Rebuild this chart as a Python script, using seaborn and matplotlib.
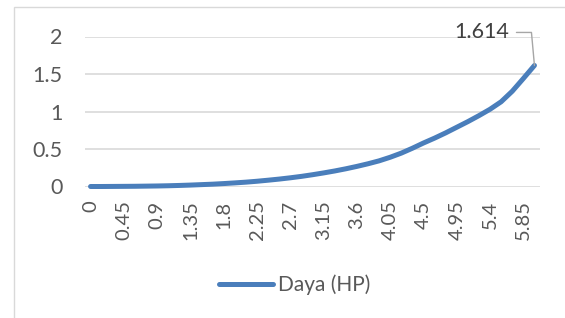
import numpy as np
import pandas as pd
import matplotlib
matplotlib.use("Agg")
import matplotlib.pyplot as plt
from matplotlib.lines import Line2D
from matplotlib.patches import Rectangle
import seaborn as sns

# ---- data ----
speed = ["0", "0.15", "0.3", "0.45", "0.6", "0.75", "0.9", "1.05", "1.2", "1.35",
         "1.5", "1.65", "1.8", "1.95", "2.1", "2.25", "2.4", "2.55", "2.7", "2.85",
         "3", "3.15", "3.3", "3.45", "3.6", "3.75", "3.9", "4.05", "4.2", "4.35",
         "4.5", "4.65", "4.8", "4.95", "5.1", "5.25", "5.4", "5.55", "5.7", "5.85", "6"]
daya = [0.000, 0.000, 0.001, 0.002, 0.003, 0.005, 0.007, 0.010, 0.014, 0.019,
        0.025, 0.031, 0.039, 0.048, 0.058, 0.070, 0.084, 0.099, 0.116, 0.135,
        0.157, 0.181, 0.207, 0.236, 0.268, 0.303, 0.342, 0.390, 0.445, 0.510,
        0.580, 0.645, 0.715, 0.790, 0.865, 0.945, 1.030, 1.130, 1.270, 1.440, 1.614]
series_name = "Daya (HP)"
y_ticks = [0, 0.5, 1, 1.5, 2]
y_tick_labels = ["0", "0.5", "1", "1.5", "2"]
label_text = "1.614"

df = pd.DataFrame({"pos": np.arange(len(speed)), "daya": daya, "speed": speed})

sns.set_style("white")
plt.rcParams["font.family"] = ["Lato", "DejaVu Sans"]

W, H = 565, 318
fig = plt.figure(figsize=(W / 100, H / 100), dpi=100)
# chart border (extends beyond the cropped image)
fig.patches.append(Rectangle((14 / W, -0.1), 1.2, (H - 7) / H + 0.1,
                             transform=fig.transFigure, fill=False,
                             edgecolor="#D9D9D9", linewidth=1.0))

ax = fig.add_axes([85 / W, (H - 186.5) / H, 455 / W, 150 / H])
blue = "#4A7EBB"
sns.lineplot(data=df, x="pos", y="daya", ax=ax, color=blue, linewidth=3.6,
             label=series_name, legend=False)
for ln in ax.get_lines():
    ln.set_solid_capstyle("round")
    ln.set_solid_joinstyle("round")
    ln.set_clip_on(False)
    ln.set_zorder(3)

ax.set_xlim(-0.5, len(speed) - 0.5)
ax.set_ylim(0, 2)
ax.set_yticks(y_ticks)
ax.set_yticklabels(y_tick_labels)
tick_pos = list(range(0, len(speed), 3))
ax.set_xticks(tick_pos)
ax.set_xticklabels([speed[i] for i in tick_pos], rotation=90)
ax.tick_params(axis="both", length=0, colors="#595959")
ax.tick_params(axis="y", pad=16, labelsize=15.5)
ax.tick_params(axis="x", pad=10, labelsize=14.5)
ax.set_xlabel("")
ax.set_ylabel("")
ax.grid(axis="y", color="#D9D9D9", linewidth=1.2)
ax.grid(axis="x", visible=False)
ax.set_axisbelow(True)
for s in ax.spines.values():
    s.set_visible(False)

# data label with leader line
fig.canvas.draw()
px, py = ax.transData.transform((len(speed) - 1, daya[-1]))
leader = Line2D([px - 18, px - 3, px], [py + 33, py + 33, py],
                transform=None, color="#A6A6A6", linewidth=1.0)
fig.lines.append(leader)
fig.text((px - 25) / W, (py + 33) / H, label_text, ha="right", va="center",
         fontsize=15.5, color="#404040")

# legend
handle = Line2D([0], [0], color=blue, linewidth=3.6, solid_capstyle="round")
fig.legend([handle], [series_name], loc="center", bbox_to_anchor=(295 / W, (H - 285) / H),
           frameon=False, fontsize=15, handlelength=2.6, handletextpad=0.25,
           labelcolor="#595959")

fig.savefig("out.png", dpi=100)
